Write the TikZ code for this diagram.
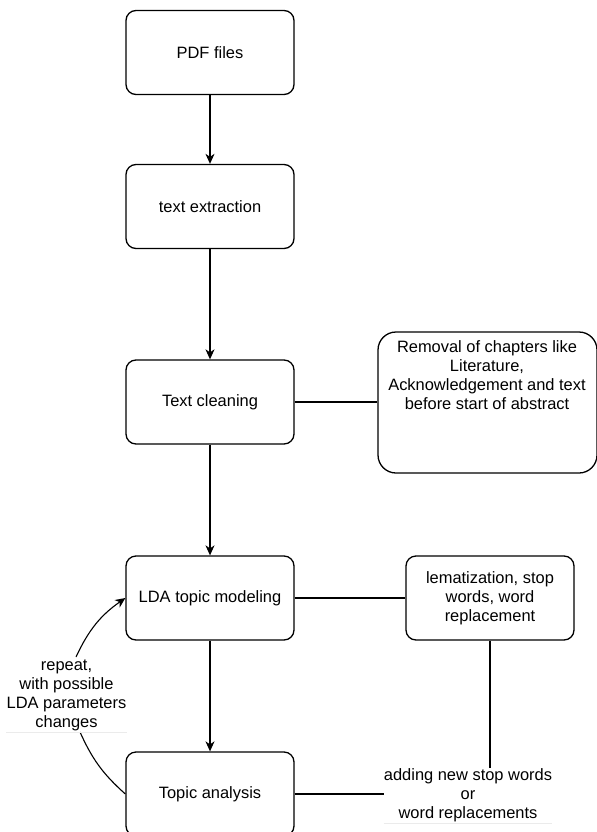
\documentclass[tikz,border=0pt]{standalone}
\usepackage{fontspec}
\setmainfont{Liberation Sans}
\usetikzlibrary{arrows.meta}
\newcommand{\myfs}{\fontsize{16.5}{19}\selectfont}
\begin{document}
\begin{tikzpicture}[x=1bp,y=-1bp,
  box/.style={draw, line width=1.3bp, rounded corners=10bp, minimum width=168bp, minimum height=84bp, inner sep=0pt, align=center, font=\myfs},
  txt/.style={inner sep=0pt, align=center, font=\myfs},
  lbl/.style={inner sep=0pt, align=center, font=\myfs},
  ln/.style={line width=1.1bp},
  arr/.style={line width=1.1bp, -{Stealth[length=10bp,width=9bp,inset=3bp]}},
  faint/.style={draw=black!8, line width=0.8bp}]
\useasboundingbox (0,0) rectangle (597,832);
\node[box] (pdf) at (210,52.5) {PDF files};
\node[box] (te) at (210,206.5) {text extraction};
\node[box] (tc) at (210,402) {Text cleaning};
\node[box] (lda) at (210,598) {LDA topic modeling};
\node[box] (ta) at (210,794) {Topic analysis};
\node[box, rounded corners=18bp, minimum width=219bp, minimum height=141bp] (rm) at (487.5,402.5) {};
\node[txt] (rmt) at (487,375.5) {Removal of chapters like\\Literature,\\Acknowledgement and text\\before start of abstract};
\node[box] (lem) at (490,598) {lematization, stop\\words, word\\replacement};
\node[lbl, minimum width=115bp, minimum height=73bp] (rep) at (66.5,695.5) {repeat,\\with possible\\LDA parameters\\changes};
\node[lbl, minimum width=168bp, minimum height=55bp] (add) at (468,795.5) {adding new stop words\\or\\word replacements};
\coordinate (c1) at (80,732);
\coordinate (c2) at (76,657);
\draw[arr] (pdf) -- (te);
\draw[arr] (te) -- (tc);
\draw[arr] (tc) -- (lda);
\draw[arr] (lda) -- (ta);
\draw[ln] (tc.east) -- (tc.east -| rm.west);
\draw[ln] (lda) -- (lem);
\draw[ln] (lem.south) -- (lem.south |- add.north);
\draw[ln] (ta.east) -- (ta.east -| add.west);
\draw[ln] (ta.west) to[bend left=12] (c1);
\draw[arr] (c2) to[bend left=15] (lda.west);
\draw[faint] (rep.south west) -- (rep.south east);
\draw[faint] (add.south west) -- (add.south east);
\end{tikzpicture}
\end{document}
